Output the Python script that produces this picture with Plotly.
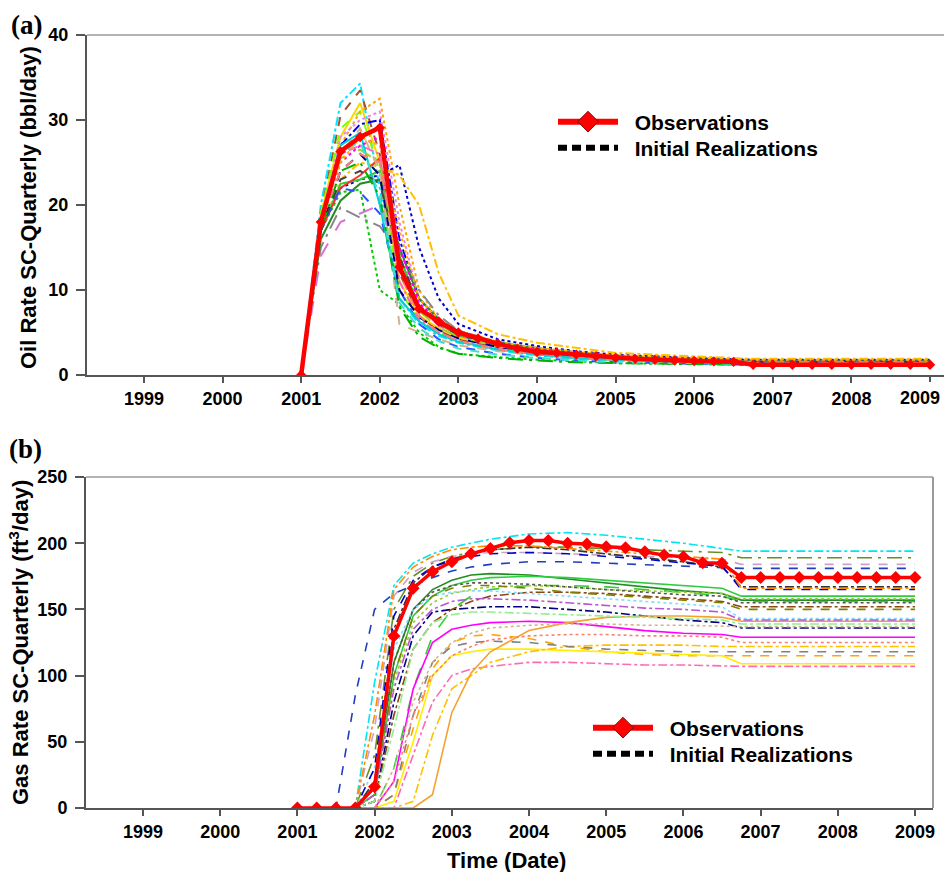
import plotly.graph_objects as go

# ---------------- data ----------------
YEAR_TICKS = [1999, 2000, 2001, 2002, 2003, 2004, 2005, 2006, 2007, 2008, 2009]
YEAR_LABELS = ["1999", "2000", "2001", "2002", "2003", "2004", "2005", "2006",
               "2007", "2008", "2009"]
OIL_TICKS = [0, 10, 20, 30, 40]
GAS_TICKS = [0, 50, 100, 150, 200, 250]

OBS_T = [2001.0, 2001.25, 2001.5, 2001.75, 2002.0, 2002.25, 2002.5, 2002.75,
         2003.0, 2003.25, 2003.5, 2003.75, 2004.0, 2004.25, 2004.5, 2004.75,
         2005.0, 2005.25, 2005.5, 2005.75, 2006.0, 2006.25, 2006.5, 2006.75,
         2007.0, 2007.25, 2007.5, 2007.75, 2008.0, 2008.25, 2008.5, 2008.75, 2009.0]

OIL_OBS = [0, 18, 26.3, 28, 29.1, 12.7, 7.8, 6.3, 5.0, 4.3, 3.7, 3.1, 2.7, 2.6,
           2.4, 2.2, 2.0, 1.9, 1.8, 1.7, 1.65, 1.6, 1.55, 1.2, 1.2, 1.2, 1.2,
           1.2, 1.2, 1.2, 1.2, 1.2, 1.2]

GAS_OBS = [0, 0, 0, 0, 16, 130, 166, 178.5, 186, 192, 196, 200.4, 202, 202,
           200, 199.4, 197.4, 196.6, 193.6, 191, 189.8, 185.3, 184.8, 174, 174,
           174, 174, 174, 174, 174, 174, 174, 174]

OIL_T = [2001.0, 2001.25, 2001.5, 2001.75, 2002.0, 2002.25, 2002.5, 2002.75,
         2003.0, 2003.5, 2004.0, 2004.5, 2005.0, 2006.0, 2006.75, 2009.0]

OIL_REAL = [
    [0, 20, 32, 34.3, 22, 9, 6, 4.6, 3.8, 2.9, 2.3, 1.9, 1.7, 1.6, 1.5, 1.5],
    [0, 19, 30.5, 33.5, 26, 12, 7, 5.2, 4.2, 3.2, 2.6, 2.2, 1.9, 1.7, 1.5, 1.5],
    [0, 19, 28, 32, 25, 11, 7, 5.5, 4.4, 3.4, 2.8, 2.3, 2.0, 1.7, 1.5, 1.5],
    [0, 19, 29, 31, 24, 10, 6.5, 5, 4, 3, 2.5, 2.1, 1.8, 1.6, 1.4, 1.4],
    [0, 18, 27, 31, 32.5, 20, 10, 6.5, 5, 3.8, 3.1, 2.6, 2.2, 1.9, 1.6, 1.6],
    [0, 18, 28, 30, 31, 18, 9, 6, 4.8, 3.6, 3, 2.5, 2.1, 1.8, 1.6, 1.6],
    [0, 18, 27, 29.5, 30, 16, 9, 6.5, 5.2, 3.8, 3.1, 2.6, 2.2, 1.9, 1.7, 1.7],
    [0, 17, 22, 23, 23.5, 24.7, 15, 9, 6, 4.2, 3.4, 2.8, 2.4, 2.0, 1.8, 1.8],
    [0, 17, 23, 25, 24.5, 23.5, 20, 12, 7, 4.8, 3.8, 3.2, 2.6, 2.2, 1.9, 1.9],
    [0, 17, 21.5, 21.8, 10, 8.3, 5, 3.3, 2.5, 2.1, 1.8, 1.6, 1.4, 1.3, 1.2, 1.2],
    [0, 15, 19.7, 18.5, 17.5, 14.5, 10, 7, 5.2, 3.9, 3.2, 2.7, 2.3, 1.9, 1.6, 1.6],
    [0, 14, 18, 19, 20, 14, 8, 5.8, 4.6, 3.5, 2.8, 2.4, 2.1, 1.8, 1.6, 1.6],
    [0, 16, 20.5, 22.5, 23, 15, 9, 6.5, 5, 3.8, 3.1, 2.6, 2.2, 1.9, 1.6, 1.6],
    [0, 17, 22.5, 23, 24, 14, 8, 6, 4.7, 3.5, 2.9, 2.4, 2.1, 1.8, 1.5, 1.5],
    [0, 17, 22, 23.5, 25.5, 13, 8, 6, 4.8, 3.6, 3, 2.5, 2.1, 1.8, 1.5, 1.5],
    [0, 17, 22, 21.5, 19, 10, 6, 4.2, 3.3, 2.5, 2.0, 1.7, 1.5, 1.3, 1.2, 1.2],
    [0, 18, 26, 29, 24, 6, 5, 4.2, 3.5, 2.8, 2.3, 2, 1.8, 1.6, 1.4, 1.4],
    [0, 18, 26, 27, 26, 11, 6.5, 5, 4, 3.1, 2.5, 2.1, 1.8, 1.6, 1.4, 1.4],
    [0, 18, 27, 28.5, 20, 9, 6.3, 4.8, 3.9, 3, 2.4, 2, 1.8, 1.6, 1.4, 1.4],
    [0, 17, 24, 26, 23.5, 10, 6.8, 5.3, 4.3, 3.3, 2.7, 2.3, 2, 1.7, 1.5, 1.5],
    [0, 17, 23, 24, 22.5, 14, 8, 6, 4.7, 3.6, 2.9, 2.4, 2.1, 1.8, 1.5, 1.5],
    [0, 18, 25, 27, 28, 15, 8.5, 6.2, 4.9, 3.7, 3, 2.5, 2.1, 1.8, 1.6, 1.6],
    [0, 18, 25.5, 26.5, 25, 13, 7.5, 5.6, 4.5, 3.4, 2.8, 2.3, 2, 1.7, 1.5, 1.5],
    [0, 17, 24, 25, 21, 8, 4.5, 3.2, 2.5, 2, 1.7, 1.5, 1.4, 1.3, 1.2, 1.2],
    [0, 18, 26, 27.5, 21, 8.5, 5.5, 4, 3.1, 2.4, 2, 1.7, 1.5, 1.4, 1.3, 1.3],
    [0, 18, 25, 28, 27, 17, 9, 6.5, 5.2, 3.9, 3.2, 2.7, 2.3, 2, 1.8, 1.8],
    [0, 18, 24, 26, 25, 12, 7, 5, 4, 3, 2.5, 2.1, 1.8, 1.6, 1.4, 1.4],
]

OIL_STYLE = [
    ("#00e5ff", "dashdot"), ("#a0522d", "dash"), ("#ffd700", "solid"),
    ("#7fff00", "dash"), ("#ffa500", "dot"), ("#ee82ee", "dot"),
    ("#0000ff", "dashdot"), ("#0000cd", "dot"), ("#ffc000", "dashdot"),
    ("#00cc00", "dot"), ("#888888", "longdashdot"), ("#da70d6", "longdash"),
    ("#228b22", "solid"), ("#32cd32", "solid"), ("#ff3030", "solid"),
    ("#3050ff", "dash"), ("#d2b48c", "dash"), ("#ff69b4", "dashdot"),
    ("#00ced1", "solid"), ("#000080", "dash"), ("#444444", "dash"),
    ("#ff00ff", "dot"), ("#9acd32", "longdash"), ("#00b000", "longdashdot"),
    ("#40e0d0", "dash"), ("#ffb000", "dot"), ("#fa8072", "dash"),
]

GAS_T = [2001.0, 2001.5, 2001.75, 2002.0, 2002.25, 2002.5, 2002.75, 2003.0,
         2003.25, 2003.5, 2004.0, 2004.5, 2005.0, 2005.5, 2006.0, 2006.5,
         2006.75, 2009.0]

GAS_REAL = [
    [0, 0, 0, 95, 168, 185, 192, 197, 200, 203, 207, 208, 206, 203, 200, 196, 194, 194],
    [0, 0, 0, 40, 150, 175, 185, 190, 193, 195, 197, 197, 196, 195, 194, 193, 189, 189],
    [0, 0, 0, 60, 160, 178, 186, 190, 192, 193, 193, 192, 191, 190, 189, 188, 184, 184],
    [0, 0, 85, 150, 162, 168, 174, 179, 182, 184, 186, 186, 185, 184, 183, 182, 181, 181],
    [0, 0, 0, 20, 135, 170, 182, 188, 192, 195, 197, 195, 192, 189, 186, 182, 167, 167],
    [0, 0, 0, 15, 110, 150, 165, 172, 176, 177, 176, 173, 170, 167, 164, 162, 157, 157],
    [0, 0, 0, 10, 100, 145, 160, 168, 172, 174, 175, 174, 172, 170, 168, 166, 160, 160],
    [0, 0, 0, 0, 30, 90, 130, 150, 160, 165, 168, 168, 167, 165, 163, 160, 156, 156],
    [0, 0, 0, 5, 80, 130, 148, 150, 151, 152, 152, 150, 148, 145, 142, 140, 136, 136],
    [0, 0, 0, 0, 20, 90, 125, 135, 138, 140, 141, 140, 137, 134, 132, 131, 129, 129],
    [0, 0, 0, 0, 10, 60, 105, 125, 130, 131, 128, 122, 118, 116, 115, 115, 115, 115],
    [0, 0, 0, 0, 5, 50, 100, 115, 118, 120, 120, 119, 118, 117, 116, 115, 109, 109],
    [0, 0, 0, 0, 0, 40, 80, 100, 105, 107, 110, 110, 109, 108, 108, 107, 107, 107],
    [0, 0, 0, 0, 0, 5, 55, 90, 100, 110, 118, 122, 123, 123, 123, 122, 122, 122],
    [0, 0, 0, 0, 10, 70, 110, 122, 125, 126, 125, 122, 120, 119, 118, 118, 118, 118],
    [0, 0, 0, 5, 70, 120, 140, 150, 156, 160, 163, 163, 162, 160, 158, 156, 152, 152],
    [0, 0, 0, 0, 0, 0, 10, 72, 102, 118, 134, 140, 144, 145, 145, 144, 141, 141],
    [0, 0, 0, 30, 120, 150, 160, 163, 164, 164, 162, 160, 158, 156, 154, 152, 143, 143],
    [0, 0, 0, 30, 145, 172, 182, 187, 190, 192, 193, 192, 190, 188, 185, 183, 165, 165],
    [0, 0, 0, 10, 95, 140, 155, 162, 165, 167, 168, 167, 165, 164, 163, 162, 158, 158],
    [0, 0, 0, 70, 165, 182, 190, 195, 197, 198, 198, 196, 194, 192, 190, 188, 166, 166],
    [0, 0, 0, 10, 100, 145, 160, 166, 168, 168, 166, 163, 161, 159, 157, 155, 150, 150],
    [0, 0, 0, 15, 110, 150, 163, 168, 170, 170, 169, 167, 165, 163, 161, 160, 155, 155],
    [0, 0, 0, 0, 30, 80, 110, 125, 132, 136, 138, 139, 139, 138, 138, 137, 137, 137],
    [0, 0, 0, 5, 60, 120, 140, 146, 148, 148, 147, 146, 145, 144, 143, 142, 139, 139],
    [0, 0, 0, 0, 20, 70, 100, 115, 122, 127, 130, 131, 131, 130, 130, 129, 125, 125],
    [0, 0, 0, 10, 90, 135, 150, 156, 158, 158, 157, 155, 153, 151, 150, 148, 142, 142],
]

GAS_STYLE = [
    ("#00e5ee", "dashdot"), ("#6b8e23", "longdashdot"), ("#c8a2c8", "dash"),
    ("#1f3fbf", "dash"), ("#333333", "dashdot"), ("#228b22", "solid"),
    ("#2ecc40", "solid"), ("#32cd32", "longdash"), ("#000080", "dashdot"),
    ("#ff00ff", "solid"), ("#ffa500", "dash"), ("#ffee00", "solid"),
    ("#ff69b4", "dashdot"), ("#ffc000", "dashdot"), ("#808080", "dash"),
    ("#8b4513", "dashdot"), ("#f5a030", "solid"), ("#7fdbff", "dot"),
    ("#0000cd", "dash"), ("#9acd32", "dot"), ("#ff8c00", "dashdot"),
    ("#808000", "dash"), ("#555555", "dot"), ("#d2b48c", "dot"),
    ("#90ee90", "dashdot"), ("#fa8072", "dot"), ("#ba55d3", "dashdot"),
]

LEGEND_NAMES = ["Observations", "Initial Realizations"]

# ---------------- figure ----------------
W, H = 944, 872
FONT = "Liberation Sans, Arial, sans-serif"
SERIF = "Liberation Serif, Times New Roman, serif"
fig = go.Figure()

for vals, (col, dash) in zip(OIL_REAL, OIL_STYLE):
    fig.add_trace(go.Scatter(x=OIL_T, y=vals, mode="lines", xaxis="x", yaxis="y",
                             line=dict(color=col, dash=dash, width=2),
                             showlegend=False, hoverinfo="skip"))
fig.add_trace(go.Scatter(x=OBS_T, y=OIL_OBS, mode="lines+markers", xaxis="x", yaxis="y",
                         line=dict(color="#ff0000", width=4.5),
                         marker=dict(symbol="diamond", size=8, color="#ff0000"),
                         showlegend=False))
# empty trace so that the overlay axis (last year of panel a) is drawn
fig.add_trace(go.Scatter(x=[None], y=[None], mode="lines", xaxis="x3", yaxis="y",
                         showlegend=False, hoverinfo="skip"))

for vals, (col, dash) in zip(GAS_REAL, GAS_STYLE):
    fig.add_trace(go.Scatter(x=GAS_T, y=vals, mode="lines", xaxis="x2", yaxis="y2",
                             line=dict(color=col, dash=dash, width=1.6),
                             showlegend=False, hoverinfo="skip"))
fig.add_trace(go.Scatter(x=OBS_T, y=GAS_OBS, mode="lines+markers", xaxis="x2", yaxis="y2",
                         line=dict(color="#ff0000", width=3.5),
                         marker=dict(symbol="diamond", size=10, color="#ff0000"),
                         showlegend=False))

# legend entries: one legend box per entry so each row can be placed
legend_ids = [("legend", "legend2", "x", "y"), ("legend3", "legend4", "x2", "y2")]
for lg_obs, lg_real, xa, ya in legend_ids:
    fig.add_trace(go.Scatter(x=[None], y=[None], mode="lines+markers",
                             name="\u00a0\u00a0" + LEGEND_NAMES[0],
                             line=dict(color="#ff0000", width=6),
                             marker=dict(symbol="diamond", size=16, color="#ff0000",
                                         line=dict(color="#7a1010", width=1)),
                             legend=lg_obs, xaxis=xa, yaxis=ya))
    fig.add_trace(go.Scatter(x=[None], y=[None], mode="lines",
                             name="\u00a0\u00a0" + LEGEND_NAMES[1],
                             line=dict(color="#000000", width=6, dash="9px,5px"),
                             legend=lg_real, xaxis=xa, yaxis=ya))

tickfont = dict(family=FONT, size=18, color="black", weight="bold")
ax_common = dict(showgrid=False, zeroline=False, showline=True, linecolor="#555555",
                 linewidth=2, ticks="outside", tickcolor="#555555", tickwidth=2,
                 tickfont=tickfont, automargin=False, ticklabeloverflow="allow")

legfont = dict(family=FONT, size=21, color="black", weight="bold")


def leg(xpx, ypx):
    return dict(x=xpx / W, y=1 - ypx / H, xanchor="left", yanchor="middle",
                bgcolor="rgba(0,0,0,0)", font=legfont, itemwidth=60,
                borderwidth=0)


title_font = dict(family=FONT, size=22, color="black", weight="bold")

XRANGE_A = [1998.275, 2009.178]
XRANGE_B = [1998.262, 2009.233]

fig.update_layout(
    width=W, height=H, margin=dict(l=0, r=0, t=0, b=0),
    paper_bgcolor="white", plot_bgcolor="white",
    # panel (a): years 1999-2008 on the main axis, the last year on an overlay axis
    xaxis=dict(domain=[87 / W, 1.0], range=XRANGE_A, tickvals=YEAR_TICKS[:-1],
               ticktext=YEAR_LABELS[:-1], ticklen=6, ticklabelstandoff=0,
               anchor="y", **ax_common),
    xaxis3=dict(domain=[87 / W, 1.0], range=XRANGE_A, tickvals=YEAR_TICKS[-1:],
                ticktext=YEAR_LABELS[-1:], ticks="outside", ticklen=6,
                tickcolor="#555555", tickwidth=2, ticklabelstandoff=0,
                ticklabelshift=-10, showline=False, showgrid=False, zeroline=False,
                tickfont=tickfont, automargin=False, ticklabeloverflow="allow",
                overlaying="x", anchor="y", side="bottom"),
    yaxis=dict(domain=[1 - 375 / H, 1 - 35 / H], range=[0, 40], tickvals=OIL_TICKS,
               ticklen=9, ticklabelstandoff=4, anchor="x", **ax_common),
    xaxis2=dict(domain=[86 / W, 933 / W], range=XRANGE_B, tickvals=YEAR_TICKS,
                ticktext=YEAR_LABELS, ticklen=6, ticklabelstandoff=0, anchor="y2",
                **ax_common),
    yaxis2=dict(domain=[1 - 808 / H, 1 - 477 / H], range=[0, 250], tickvals=GAS_TICKS,
                ticklen=9, ticklabelstandoff=4, anchor="x2", **ax_common),
    legend=leg(553, 122),
    legend2=leg(553, 148),
    legend3=leg(588, 728),
    legend4=leg(588, 754),
    shapes=[
        dict(type="line", xref="x domain", yref="y domain", x0=0, x1=1, y0=1, y1=1,
             line=dict(color="#9a9a9a", width=1.5)),
        dict(type="line", xref="x2 domain", yref="y2 domain", x0=0, x1=1, y0=1, y1=1,
             line=dict(color="#9a9a9a", width=1.5)),
        dict(type="line", xref="x2 domain", yref="y2 domain", x0=1, x1=1, y0=0, y1=1,
             line=dict(color="#9a9a9a", width=2)),
    ],
    annotations=[
        dict(text="(a)", x=26 / W, y=1 - 25 / H, xref="paper", yref="paper",
             xanchor="center", yanchor="middle", showarrow=False,
             font=dict(family=SERIF, size=27, color="black", weight="bold")),
        dict(text="(b)", x=25 / W, y=1 - 449 / H, xref="paper", yref="paper",
             xanchor="center", yanchor="middle", showarrow=False,
             font=dict(family=SERIF, size=27, color="black", weight="bold")),
        dict(text="Oil Rate SC-Quarterly (bbl/day)", x=28 / W, y=1 - 208 / H,
             xref="paper", yref="paper", xanchor="center", yanchor="middle",
             showarrow=False, textangle=-90, font=title_font),
        dict(text="Gas Rate SC-Quarterly (ft<sup>3</sup>/day)", x=19 / W, y=1 - 643 / H,
             xref="paper", yref="paper", xanchor="center", yanchor="middle",
             showarrow=False, textangle=-90, font=title_font),
        dict(text="Time (Date)", x=506 / W, y=1 - 860 / H, xref="paper", yref="paper",
             xanchor="center", yanchor="middle", showarrow=False, font=title_font),
    ],
)

fig.write_html("out.html")
